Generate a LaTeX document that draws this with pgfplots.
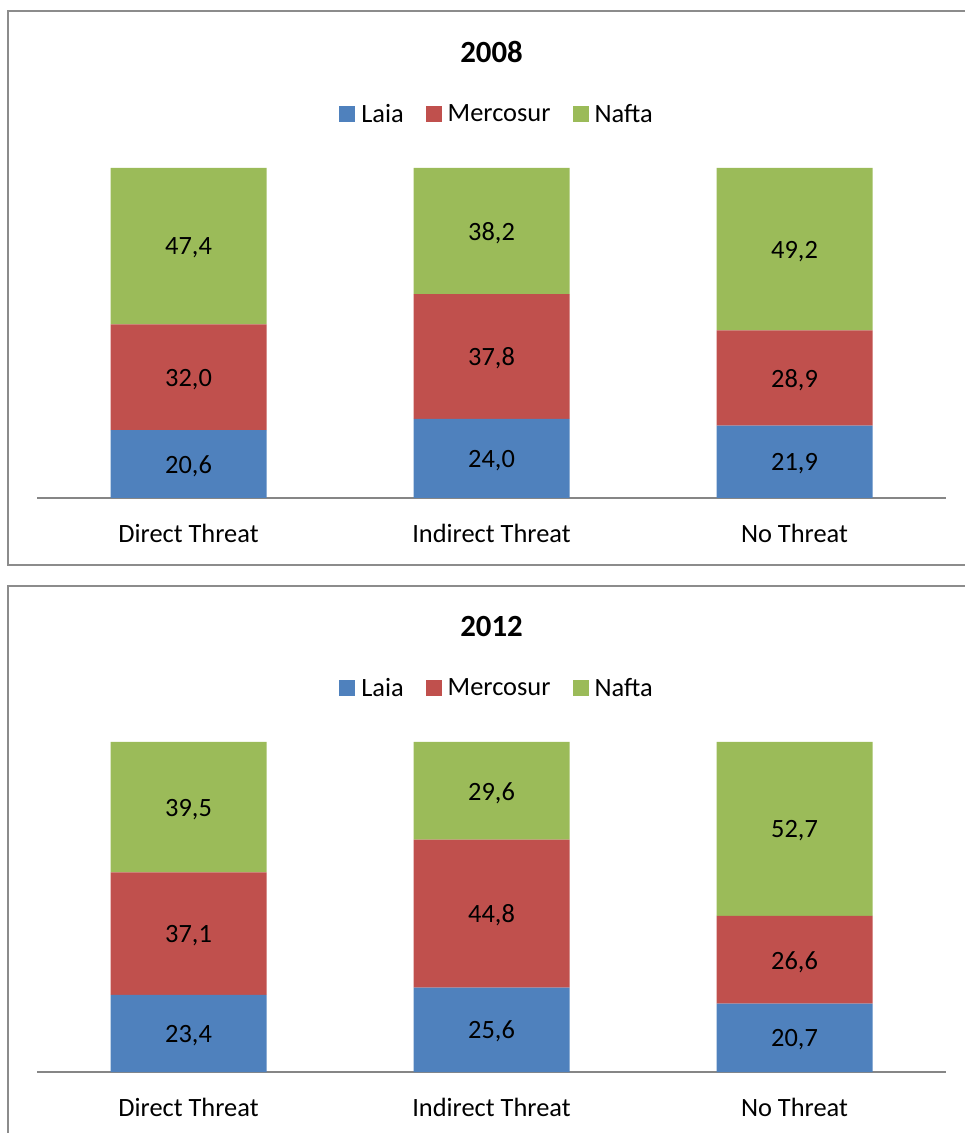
\documentclass[border=0pt]{standalone}
\usepackage{fontspec}
\setmainfont{Carlito}
\usepackage{pgfplots}
\pgfplotsset{compat=1.18}
\definecolor{laia}{HTML}{4F81BD}
\definecolor{merc}{HTML}{C0504D}
\definecolor{nafta}{HTML}{9BBB59}
\definecolor{axgray}{HTML}{868686}
\definecolor{bordergray}{HTML}{8C8C8C}
\newcommand{\lblfont}{\fontsize{26.4}{32}\selectfont}
\pgfplotsset{
  panelgeom/.style={
    scale only axis, width=909pt, height=330pt,
    xmin=-0.5, xmax=2.5, ymin=0, ymax=100,
  },
  panel/.style={
    panelgeom,
    axis x line=bottom, axis y line=none,
    axis line style={-, draw=axgray, line width=1.3pt},
    xtick={0,1,2}, xticklabels={Direct Threat,Indirect Threat,No Threat},
    major tick length=0pt,
    xticklabel style={anchor=base, yshift=-44.5pt, font=\lblfont},
    ytick=\empty,
    ybar stacked, bar width=156pt,
    legend columns=3,
    legend style={at={(axis description cs:0.506,1.1636)}, anchor=center,
      draw=none, fill=none, font=\lblfont,
      /tikz/every even column/.append style={column sep=20pt}},
    legend cell align=left,
  },
  sq/.style={legend image code/.code={\fill[##1] (0pt,-8pt) rectangle (16pt,8pt); \path (20pt,0pt);}},
  lbls/.style={
    panelgeom, hide axis,
  },
  lblplot/.style={only marks, mark=none, nodes near coords, point meta=explicit symbolic,
    nodes near coords align=center,
    every node near coord/.append style={font=\lblfont, text=black, anchor=center, yshift=-2pt}},
}
\begin{document}
\begin{tikzpicture}[x=1pt,y=1pt]
\path[use as bounding box] (0,0) rectangle (965,1133);
% borders
\draw[bordergray, line width=1.5pt] (965,1122) -- (8,1122) -- (8,568) -- (965,568);
\draw[bordergray, line width=1.5pt] (965,547) -- (8,547) -- (8,-2);
% titles
\node[font=\fontsize{30.8}{36}\selectfont\bfseries] at (491.5,1081) {2008};
\node[font=\fontsize{30.8}{36}\selectfont\bfseries] at (491.5,506) {2012};
% ---- 2008
\begin{axis}[panel, at={(37pt,635pt)}, anchor=south west]
\addplot[fill=laia, draw=none, sq] coordinates {(0,20.6) (1,24.0) (2,21.9)};
\addplot[fill=merc, draw=none, sq] coordinates {(0,32.0) (1,37.8) (2,28.9)};
\addplot[fill=nafta, draw=none, sq] coordinates {(0,47.4) (1,38.2) (2,49.2)};
\legend{Laia,Mercosur,Nafta}
\end{axis}
\begin{axis}[lbls, at={(37pt,635pt)}, anchor=south west]
\addplot[lblplot] coordinates {
 (0,10.3) [20,6] (0,36.6) [32,0] (0,76.3) [47,4]
 (1,12.0) [24,0] (1,42.9) [37,8] (1,80.9) [38,2]
 (2,10.95) [21,9] (2,36.35) [28,9] (2,75.4) [49,2]};
\end{axis}
% ---- 2012
\begin{axis}[panel, at={(37pt,61pt)}, anchor=south west]
\addplot[fill=laia, draw=none, sq] coordinates {(0,23.4) (1,25.6) (2,20.7)};
\addplot[fill=merc, draw=none, sq] coordinates {(0,37.1) (1,44.8) (2,26.6)};
\addplot[fill=nafta, draw=none, sq] coordinates {(0,39.5) (1,29.6) (2,52.7)};
\legend{Laia,Mercosur,Nafta}
\end{axis}
\begin{axis}[lbls, at={(37pt,61pt)}, anchor=south west]
\addplot[lblplot] coordinates {
 (0,11.7) [23,4] (0,41.95) [37,1] (0,80.25) [39,5]
 (1,12.8) [25,6] (1,48.0) [44,8] (1,85.2) [29,6]
 (2,10.35) [20,7] (2,34.0) [26,6] (2,73.65) [52,7]};
\end{axis}
\end{tikzpicture}
\end{document}
